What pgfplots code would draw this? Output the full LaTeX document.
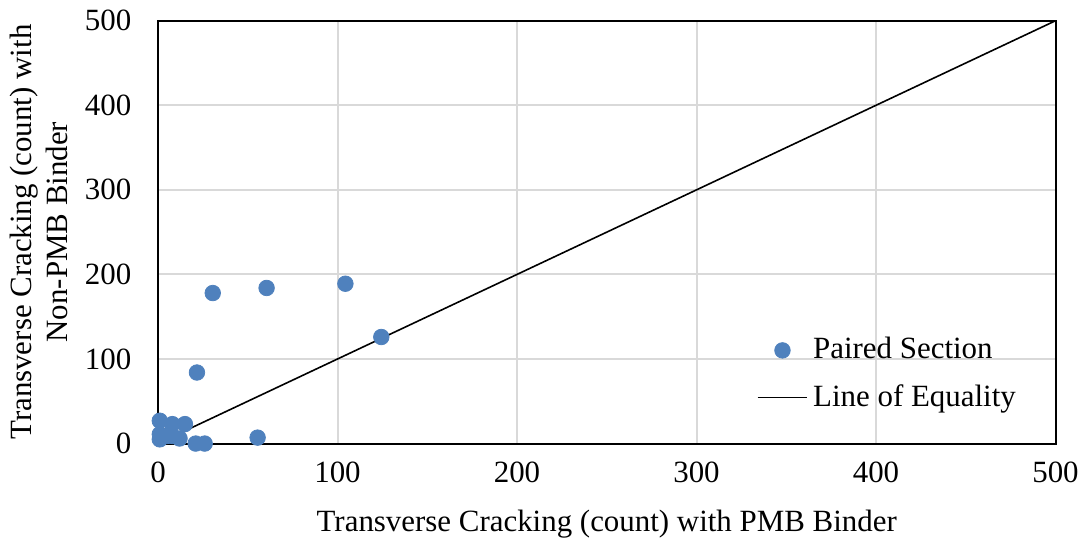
\documentclass[border=0pt]{standalone}
\usepackage{fontspec}
\setmainfont{Liberation Serif}
\usepackage{pgfplots}
\pgfplotsset{compat=1.18}
\definecolor{ptblue}{HTML}{4F81BD}
\definecolor{gridgray}{HTML}{D9D9D9}
\pgfplotsset{
  dotlegend/.style={legend image code/.code={\draw[##1] plot coordinates {(12.5pt,0)};}},
  linelegend/.style={legend image code/.code={\draw[##1] (0pt,0) -- (25pt,0);}},
}

\begin{document}
\fontsize{15.5}{18}\selectfont
\begin{tikzpicture}
\begin{axis}[
  scale only axis,
  width=450pt, height=212pt,
  xmin=0, xmax=500, ymin=0, ymax=500,
  xtick={0,100,...,500}, ytick={0,100,...,500},
  grid=major,
  major grid style={gridgray, line width=1pt},
  axis line style={black, line width=1pt},
  tick style={draw=none},
  /pgf/number format/assume math mode=true,
  ticklabel style={font=\fontsize{15.5}{18}\selectfont},
  xticklabel style={yshift=-4pt},
  yticklabel style={xshift=-8pt},
  xlabel={Transverse Cracking (count) with PMB Binder},
  ylabel={Transverse Cracking (count) with\\Non-PMB Binder},
  ylabel style={align=center, font=\fontsize{15.5}{18}\selectfont, yshift=-2pt},
  xlabel style={font=\fontsize{15.5}{18}\selectfont, yshift=-3pt},
  legend style={at={(0.660,0.271)}, anchor=north west, draw=none, fill=none,
    font=\fontsize{15.5}{18}\selectfont, row sep=6.5pt,
    /tikz/every odd column/.append style={column sep=0.5pt}},
  legend cell align=left,
]
\addplot[only marks, mark=*, mark size=3.9pt, color=ptblue, dotlegend]
  coordinates {
  (1,27) (1,11) (1,5) (5,9) (8,23) (15,23) (8,9) (12,6)
  (21,0) (26,0) (55.5,7) (30.5,178) (60.5,184) (104.4,189)
  (124.4,126) (21.7,84)
};
\addlegendentry{Paired Section}
\addplot[black, line width=0.8pt, no marks, linelegend]
  coordinates {(0,0) (500,500)};
\addlegendentry{Line of Equality}
\end{axis}
\end{tikzpicture}
\end{document}
